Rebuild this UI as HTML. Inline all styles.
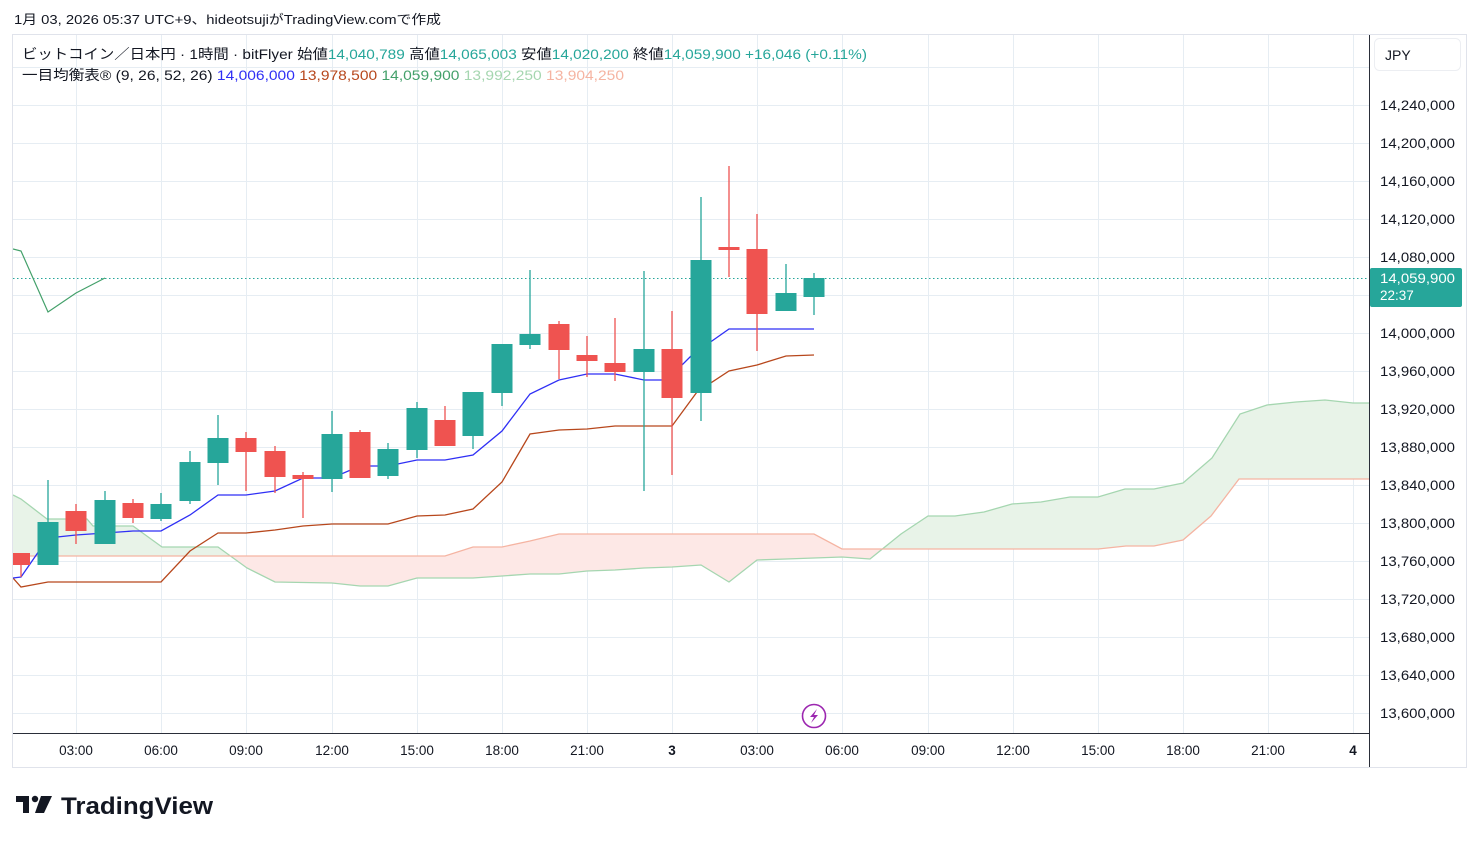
<!DOCTYPE html>
<html><head><meta charset="utf-8"><style>
body{margin:0;background:#fff;width:1479px;height:843px;overflow:hidden;font-family:"Liberation Sans","Noto Sans CJK JP",sans-serif;}
svg{position:absolute;left:0;top:0}
</style></head><body>
<svg width="1479" height="843" xmlns="http://www.w3.org/2000/svg" font-family="Liberation Sans, Noto Sans CJK JP, sans-serif">
<rect x="0" y="0" width="1479" height="843" fill="#fff"/>
<text x="14" y="24" font-size="13" fill="#131722" textLength="427" lengthAdjust="spacingAndGlyphs">1月 03, 2026 05:37 UTC+9、hideotsujiがTradingView.comで作成</text>
<rect x="12.5" y="34.5" width="1454" height="733" fill="none" stroke="#e0e3eb"/>
<defs>
<clipPath id="chart"><rect x="13" y="35" width="1356" height="698"/></clipPath>
<clipPath id="aboveB"><polygon points="13,35 13,556 445,556 473,547 502,547 530,541 559,534 814,534 842,549 1098,549 1126,546 1154,546 1183,540 1211,516 1239,479 1369,479 1369,35"/></clipPath>
<clipPath id="belowB"><polygon points="13,733 13,556 445,556 473,547 502,547 530,541 559,534 814,534 842,549 1098,549 1126,546 1154,546 1183,540 1211,516 1239,479 1369,479 1369,733"/></clipPath>
</defs>
<g stroke="#e6edf3" stroke-width="1">
<line x1="13" x2="1369" y1="67.5" y2="67.5"/><line x1="13" x2="1369" y1="105.5" y2="105.5"/><line x1="13" x2="1369" y1="143.5" y2="143.5"/><line x1="13" x2="1369" y1="181.5" y2="181.5"/><line x1="13" x2="1369" y1="219.5" y2="219.5"/><line x1="13" x2="1369" y1="257.5" y2="257.5"/><line x1="13" x2="1369" y1="295.5" y2="295.5"/><line x1="13" x2="1369" y1="333.5" y2="333.5"/><line x1="13" x2="1369" y1="371.5" y2="371.5"/><line x1="13" x2="1369" y1="409.5" y2="409.5"/><line x1="13" x2="1369" y1="447.5" y2="447.5"/><line x1="13" x2="1369" y1="485.5" y2="485.5"/><line x1="13" x2="1369" y1="523.5" y2="523.5"/><line x1="13" x2="1369" y1="561.5" y2="561.5"/><line x1="13" x2="1369" y1="599.5" y2="599.5"/><line x1="13" x2="1369" y1="637.5" y2="637.5"/><line x1="13" x2="1369" y1="675.5" y2="675.5"/><line x1="13" x2="1369" y1="713.5" y2="713.5"/>
<line y1="35" y2="733" x1="76.5" x2="76.5"/><line y1="35" y2="733" x1="161.5" x2="161.5"/><line y1="35" y2="733" x1="246.5" x2="246.5"/><line y1="35" y2="733" x1="332.5" x2="332.5"/><line y1="35" y2="733" x1="417.5" x2="417.5"/><line y1="35" y2="733" x1="502.5" x2="502.5"/><line y1="35" y2="733" x1="587.5" x2="587.5"/><line y1="35" y2="733" x1="672.5" x2="672.5"/><line y1="35" y2="733" x1="757.5" x2="757.5"/><line y1="35" y2="733" x1="842.5" x2="842.5"/><line y1="35" y2="733" x1="928.5" x2="928.5"/><line y1="35" y2="733" x1="1013.5" x2="1013.5"/><line y1="35" y2="733" x1="1098.5" x2="1098.5"/><line y1="35" y2="733" x1="1183.5" x2="1183.5"/><line y1="35" y2="733" x1="1268.5" x2="1268.5"/><line y1="35" y2="733" x1="1353.5" x2="1353.5"/>
</g>
<g clip-path="url(#chart)">
<g clip-path="url(#aboveB)"><polygon fill="#e8f3e8" points="13,495 21,499 47,519 87,519 93,526 133,526 162,547 218,547 247,568 275,582 332,583 360,586 388,586 417,578 445,578 473,578 502,576 530,574 559,574 587,571 615,570 644,568 672,567 701,565 729,582 757,560 786,559 814,558 842,557 870,559 901,534 928,516 955,516 984,512 1012,504 1041,502 1070,497 1098,497 1125,489 1154,489 1183,483 1212,458 1240,414 1267,405 1296,402 1325,400 1353,403 1369,403 1369,479 1239,479 1211,516 1183,540 1154,546 1126,546 1098,549 842,549 814,534 559,534 530,541 502,547 473,547 445,556 13,556"/></g>
<g clip-path="url(#belowB)"><polygon fill="#fde8e6" points="13,495 21,499 47,519 87,519 93,526 133,526 162,547 218,547 247,568 275,582 332,583 360,586 388,586 417,578 445,578 473,578 502,576 530,574 559,574 587,571 615,570 644,568 672,567 701,565 729,582 757,560 786,559 814,558 842,557 870,559 901,534 928,516 955,516 984,512 1012,504 1041,502 1070,497 1098,497 1125,489 1154,489 1183,483 1212,458 1240,414 1267,405 1296,402 1325,400 1353,403 1369,403 1369,479 1239,479 1211,516 1183,540 1154,546 1126,546 1098,549 842,549 814,534 559,534 530,541 502,547 473,547 445,556 13,556"/></g>
<polyline fill="none" stroke="#a5d6b0" stroke-width="1.3" points="13,495 21,499 47,519 87,519 93,526 133,526 162,547 218,547 247,568 275,582 332,583 360,586 388,586 417,578 445,578 473,578 502,576 530,574 559,574 587,571 615,570 644,568 672,567 701,565 729,582 757,560 786,559 814,558 842,557 870,559 901,534 928,516 955,516 984,512 1012,504 1041,502 1070,497 1098,497 1125,489 1154,489 1183,483 1212,458 1240,414 1267,405 1296,402 1325,400 1353,403 1369,403"/>
<polyline fill="none" stroke="#f5b4a2" stroke-width="1.3" points="13,556 445,556 473,547 502,547 530,541 559,534 814,534 842,549 1098,549 1126,546 1154,546 1183,540 1211,516 1239,479 1369,479"/>
<line x1="13" x2="1369" y1="278.5" y2="278.5" stroke="#26a69a" stroke-width="1" stroke-dasharray="1.5,2.5"/>
<polyline fill="none" stroke="#43a06a" stroke-width="1.2" points="13,249 21,251 48,312 76,293 105,278"/>
<polyline fill="none" stroke="#b7471c" stroke-width="1.3" points="13,578 21,587 48,582 161,582 190,551 218,533 246,533 275,530 303,526 332,524 388,524 417,516 445,515 473,509 502,482 530,434 559,430 587,429 615,426 672,426 697,392 729,371 757,365 786,356 814,355"/>
<polyline fill="none" stroke="#2f2ff5" stroke-width="1.3" points="13,578 21,577 48,538 76,535 105,533 133,531 161,531 190,515 218,495 246,495 275,491 303,478 332,478 360,466 388,466 417,460 445,460 473,455 502,431 530,394 559,380 587,374 615,374 644,380 667,380 692,355 729,329 814,329"/>
<g stroke-width="1.3">
<g fill="#ef5350" stroke="#ef5350">
<line x1="21" x2="21" y1="553" y2="577"/><rect x="12" y="553" width="18" height="12" stroke="none"/>
<line x1="76" x2="76" y1="504" y2="544"/><rect x="65.5" y="511" width="21" height="20" stroke="none"/>
<line x1="133" x2="133" y1="499" y2="523"/><rect x="122.5" y="503" width="21" height="15" stroke="none"/>
<line x1="246" x2="246" y1="432" y2="491"/><rect x="235.5" y="438" width="21" height="14" stroke="none"/>
<line x1="275" x2="275" y1="446" y2="493"/><rect x="264.5" y="451" width="21" height="26" stroke="none"/>
<line x1="303" x2="303" y1="472" y2="518"/><rect x="292.5" y="475" width="21" height="4" stroke="none"/>
<line x1="360" x2="360" y1="430" y2="478"/><rect x="349.5" y="432" width="21" height="46" stroke="none"/>
<line x1="445" x2="445" y1="406" y2="446"/><rect x="434.5" y="420" width="21" height="26" stroke="none"/>
<line x1="559" x2="559" y1="321" y2="379"/><rect x="548.5" y="324" width="21" height="26" stroke="none"/>
<line x1="587" x2="587" y1="336" y2="377"/><rect x="576.5" y="355" width="21" height="6" stroke="none"/>
<line x1="615" x2="615" y1="318" y2="381"/><rect x="604.5" y="363" width="21" height="9" stroke="none"/>
<line x1="672" x2="672" y1="311" y2="475"/><rect x="661.5" y="349" width="21" height="49" stroke="none"/>
<line x1="729" x2="729" y1="166" y2="277"/><rect x="718.5" y="247" width="21" height="3" stroke="none"/>
<line x1="757" x2="757" y1="214" y2="351"/><rect x="746.5" y="249" width="21" height="65" stroke="none"/>
</g>
<g fill="#26a69a" stroke="#26a69a">
<line x1="48" x2="48" y1="480" y2="565"/><rect x="37.5" y="522" width="21" height="43" stroke="none"/>
<line x1="105" x2="105" y1="491" y2="544"/><rect x="94.5" y="500" width="21" height="44" stroke="none"/>
<line x1="161" x2="161" y1="493" y2="521"/><rect x="150.5" y="504" width="21" height="15" stroke="none"/>
<line x1="190" x2="190" y1="451" y2="504"/><rect x="179.5" y="462" width="21" height="39" stroke="none"/>
<line x1="218" x2="218" y1="415" y2="485"/><rect x="207.5" y="438" width="21" height="25" stroke="none"/>
<line x1="332" x2="332" y1="411" y2="492"/><rect x="321.5" y="434" width="21" height="45" stroke="none"/>
<line x1="388" x2="388" y1="443" y2="479"/><rect x="377.5" y="449" width="21" height="27" stroke="none"/>
<line x1="417" x2="417" y1="402" y2="458"/><rect x="406.5" y="408" width="21" height="42" stroke="none"/>
<line x1="473" x2="473" y1="392" y2="449"/><rect x="462.5" y="392" width="21" height="44" stroke="none"/>
<line x1="502" x2="502" y1="344" y2="406"/><rect x="491.5" y="344" width="21" height="49" stroke="none"/>
<line x1="530" x2="530" y1="270" y2="349"/><rect x="519.5" y="334" width="21" height="11" stroke="none"/>
<line x1="644" x2="644" y1="271" y2="491"/><rect x="633.5" y="349" width="21" height="23" stroke="none"/>
<line x1="701" x2="701" y1="197" y2="421"/><rect x="690.5" y="260" width="21" height="133" stroke="none"/>
<line x1="786" x2="786" y1="264" y2="311"/><rect x="775.5" y="293" width="21" height="18" stroke="none"/>
<line x1="814" x2="814" y1="273" y2="315"/><rect x="803.5" y="278" width="21" height="19" stroke="none"/>
</g></g>
</g>
<circle cx="814" cy="716" r="11.5" fill="#fff" stroke="#9c27b0" stroke-width="1.6"/>
<path d="M817,709 L810,717 L814,717 L811,723 L818,715 L814,715 Z" fill="#9c27b0"/>
<line x1="13" x2="1369" y1="733.5" y2="733.5" stroke="#2a2e39"/>
<line x1="1369.5" x2="1369.5" y1="35" y2="767" stroke="#2a2e39"/>
<g font-size="13.5" fill="#131722" text-anchor="middle">
<text x="76" y="755">03:00</text><text x="161" y="755">06:00</text><text x="246" y="755">09:00</text><text x="332" y="755">12:00</text><text x="417" y="755">15:00</text><text x="502" y="755">18:00</text><text x="587" y="755">21:00</text><text x="672" y="755" font-weight="bold">3</text><text x="757" y="755">03:00</text><text x="842" y="755">06:00</text><text x="928" y="755">09:00</text><text x="1013" y="755">12:00</text><text x="1098" y="755">15:00</text><text x="1183" y="755">18:00</text><text x="1268" y="755">21:00</text><text x="1353" y="755" font-weight="bold">4</text>
</g>
<g font-size="13.5" fill="#131722" text-anchor="start">
<text x="1380" y="110" textLength="75" lengthAdjust="spacingAndGlyphs">14,240,000</text><text x="1380" y="148" textLength="75" lengthAdjust="spacingAndGlyphs">14,200,000</text><text x="1380" y="186" textLength="75" lengthAdjust="spacingAndGlyphs">14,160,000</text><text x="1380" y="224" textLength="75" lengthAdjust="spacingAndGlyphs">14,120,000</text><text x="1380" y="262" textLength="75" lengthAdjust="spacingAndGlyphs">14,080,000</text><text x="1380" y="338" textLength="75" lengthAdjust="spacingAndGlyphs">14,000,000</text><text x="1380" y="376" textLength="75" lengthAdjust="spacingAndGlyphs">13,960,000</text><text x="1380" y="414" textLength="75" lengthAdjust="spacingAndGlyphs">13,920,000</text><text x="1380" y="452" textLength="75" lengthAdjust="spacingAndGlyphs">13,880,000</text><text x="1380" y="490" textLength="75" lengthAdjust="spacingAndGlyphs">13,840,000</text><text x="1380" y="528" textLength="75" lengthAdjust="spacingAndGlyphs">13,800,000</text><text x="1380" y="566" textLength="75" lengthAdjust="spacingAndGlyphs">13,760,000</text><text x="1380" y="604" textLength="75" lengthAdjust="spacingAndGlyphs">13,720,000</text><text x="1380" y="642" textLength="75" lengthAdjust="spacingAndGlyphs">13,680,000</text><text x="1380" y="680" textLength="75" lengthAdjust="spacingAndGlyphs">13,640,000</text><text x="1380" y="718" textLength="75" lengthAdjust="spacingAndGlyphs">13,600,000</text>
</g>
<rect x="1370" y="268" width="92" height="39" rx="2" fill="#26a69a"/>
<text x="1380" y="283" font-size="13.5" fill="#fff" textLength="75" lengthAdjust="spacingAndGlyphs">14,059,900</text>
<text x="1380" y="300" font-size="13.5" fill="#fff">22:37</text>
<rect x="1374.5" y="38.5" width="86" height="32" rx="5" fill="#fff" stroke="#eceef2"/>
<text x="1385" y="60" font-size="14" fill="#131722">JPY</text>
<text x="22" y="59" font-size="14" fill="#131722" textLength="845" lengthAdjust="spacingAndGlyphs">ビットコイン／日本円 · 1時間 · bitFlyer  始値<tspan fill="#26a69a">14,040,789</tspan>  高値<tspan fill="#26a69a">14,065,003</tspan>  安値<tspan fill="#26a69a">14,020,200</tspan>  終値<tspan fill="#26a69a">14,059,900 +16,046 (+0.11%)</tspan></text>
<text x="22" y="80" font-size="14" fill="#131722" textLength="602" lengthAdjust="spacingAndGlyphs">一目均衡表® (9, 26, 52, 26)  <tspan fill="#2f2ff5">14,006,000</tspan>  <tspan fill="#b7471c">13,978,500</tspan>  <tspan fill="#43a06a">14,059,900</tspan>  <tspan fill="#a5d6b0">13,992,250</tspan>  <tspan fill="#f5b4a2">13,904,250</tspan></text>
<path d="M16,796 h13 v17 h-6 v-11 h-7 z" fill="#131722"/><circle cx="35" cy="799" r="3.2" fill="#131722"/><path d="M41,796 h11 l-8,17 h-9 z" fill="#131722"/>
<text x="61" y="814" font-size="24" font-weight="bold" fill="#131722" textLength="152" lengthAdjust="spacingAndGlyphs">TradingView</text>
</svg>
</body></html>
